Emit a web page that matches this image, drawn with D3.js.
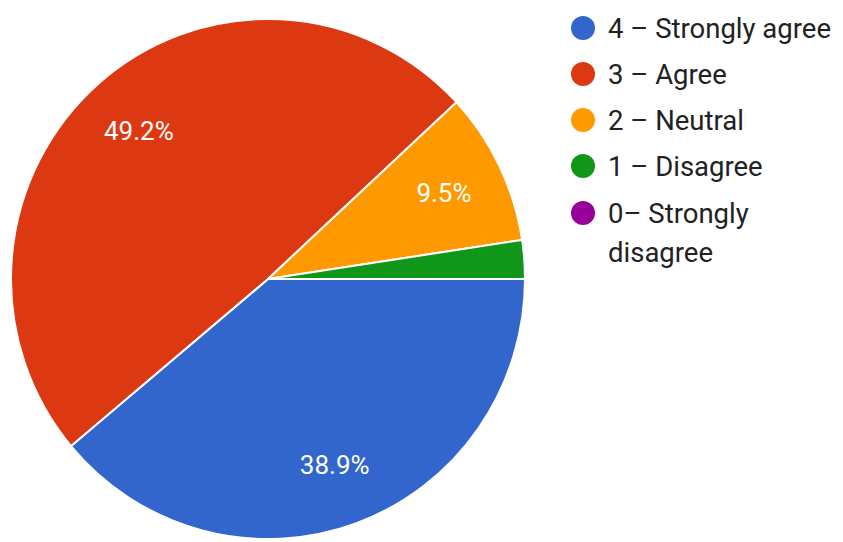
<!DOCTYPE html>
<html><head><meta charset="utf-8">
<script src="https://cdn.jsdelivr.net/npm/d3@7"></script>
<style>body{margin:0;background:#fff}svg{display:block}</style>
</head><body><svg id="c" width="843" height="542"></svg>
<script>
const categories = ["4 – Strongly agree", "3 – Agree", "2 – Neutral", "1 – Disagree", "0– Strongly disagree"];
const legendLines = [["4 – Strongly agree"], ["3 – Agree"], ["2 – Neutral"], ["1 – Disagree"], ["0– Strongly", "disagree"]];
const values = [38.9, 49.2, 9.5, 2.4, 0];
const colors = ["#3366cc", "#dc3912", "#ff9900", "#109618", "#990099"];

const svg = d3.select("#c");
const cx = 268, cy = 279, r = 257, sy = 1.012;
const g = svg.append("g").attr("transform", `translate(${cx},${cy}) scale(1,${sy})`);
const pie = d3.pie().sort(null).value(d => d).startAngle(Math.PI / 2).endAngle(Math.PI / 2 + 2 * Math.PI);
const arcs = pie(values);
const arc = d3.arc().innerRadius(0).outerRadius(r);
g.selectAll("path").data(arcs.filter(d => d.value > 0)).join("path")
  .attr("d", arc).attr("fill", (d) => colors[d.index])
  .attr("stroke", "#fff").attr("stroke-width", 2).attr("stroke-linejoin", "round");

const labelArc = d3.arc().innerRadius(r * 0.76).outerRadius(r * 0.76);
svg.append("g").selectAll("text").data(arcs.filter(d => d.value >= 5)).join("text")
  .attr("x", d => cx + labelArc.centroid(d)[0])
  .attr("y", d => cy + labelArc.centroid(d)[1] * sy)
  .attr("text-anchor", "middle").attr("dominant-baseline", "central")
  .attr("font-family", "Roboto, sans-serif").attr("font-size", 26).attr("fill", "#fff")
  .text(d => d.value.toFixed(1) + "%");

const leg = svg.append("g").attr("font-family", "Roboto, sans-serif").attr("font-size", 27.5).attr("fill", "#222");
const ly = [28, 74, 120, 166, 213];
categories.forEach((c, i) => {
  leg.append("circle").attr("cx", 583).attr("cy", ly[i]).attr("r", 12).attr("fill", colors[i]);
  const t = leg.append("text").attr("x", 608).attr("y", ly[i]).attr("dominant-baseline", "central");
  legendLines[i].forEach((ln, j) => t.append("tspan").attr("x", 608).attr("dy", j === 0 ? 0 : 39).text(ln));
});
</script></body></html>
